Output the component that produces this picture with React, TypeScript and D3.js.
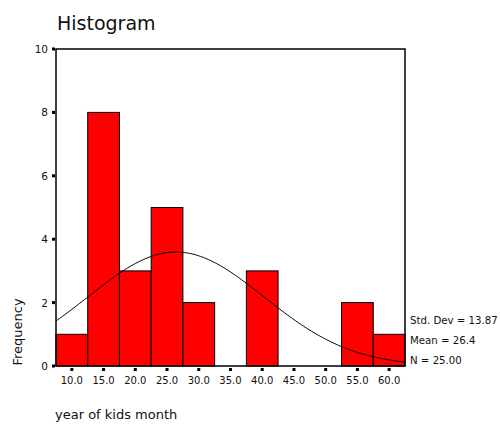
import React from "react";
import * as d3 from "d3";

const binCenters = [10, 15, 20, 25, 30, 35, 40, 45, 50, 55, 60];
const frequencies = [1, 8, 3, 5, 2, 0, 3, 0, 0, 2, 1];
const yTicks = [0, 2, 4, 6, 8, 10];
const xTickLabels = ["10.0", "15.0", "20.0", "25.0", "30.0", "35.0", "40.0", "45.0", "50.0", "55.0", "60.0"];
const stdDev = 13.87;
const mean = 26.4;
const nCount = 25;
const binWidth = 5;
const statLines = ["Std. Dev = 13.87", "Mean = 26.4", "N = 25.00"];

const FONT = "'DejaVu Sans', Verdana, sans-serif";

export default function App() {
  const W = 500, H = 429;
  const left = 56, right = 405, top = 49, bottom = 366;
  const x = d3.scaleLinear().domain([7.5, 62.5]).range([left, right]);
  const y = d3.scaleLinear().domain([0, 10]).range([bottom, top]);

  const curvePts = d3.range(7.5, 62.5001, 0.25).map((v) => {
    const z = (v - mean) / stdDev;
    const f = (nCount * binWidth) / (stdDev * Math.sqrt(2 * Math.PI)) * Math.exp(-0.5 * z * z);
    return [v, f] as [number, number];
  });
  const line = d3.line<[number, number]>().x((d) => x(d[0])).y((d) => y(d[1]));

  return (
    <svg width={W} height={H} style={{ position: "absolute", left: 0, top: 0, background: "#fff" }}>
      <text x={57} y={30} fontFamily={FONT} fontSize={19} fill="#111">Histogram</text>
      {binCenters.map((c, i) =>
        frequencies[i] > 0 ? (
          <rect key={i} x={x(c - binWidth / 2)} y={y(frequencies[i])}
            width={x(c + binWidth / 2) - x(c - binWidth / 2)} height={bottom - y(frequencies[i])}
            fill="#ff0000" stroke="#000" strokeWidth={1} />
        ) : null
      )}
      <path d={line(curvePts) || ""} fill="none" stroke="#000" strokeWidth={1} />
      <rect x={left} y={top} width={right - left} height={bottom - top} fill="none" stroke="#000" strokeWidth={1.5} />
      {yTicks.map((t) => (
        <g key={t}>
          <rect x={left - 4} y={y(t) - 1.5} width={3} height={3} fill="#000" />
          <text x={left - 8} y={y(t) + 4} textAnchor="end" fontFamily={FONT} fontSize={10.5} fill="#111">{t}</text>
        </g>
      ))}
      {binCenters.map((c, i) => (
        <g key={c}>
          <rect x={x(c) - 1.5} y={bottom + 2} width={3} height={3} fill="#000" />
          <text x={x(c)} y={bottom + 18} textAnchor="middle" fontFamily={FONT} fontSize={10} fill="#111">{xTickLabels[i]}</text>
        </g>
      ))}
      {statLines.map((s, i) => (
        <text key={s} x={410} y={324 + i * 20} fontFamily={FONT} fontSize={10.2} fill="#111">{s}</text>
      ))}
      <text transform={`translate(22,332) rotate(-90)`} textAnchor="middle" fontFamily={FONT} fontSize={13} fill="#111">Frequency</text>
      <text x={55} y={419} fontFamily={FONT} fontSize={13} fill="#111">year of kids month</text>
    </svg>
  );
}
